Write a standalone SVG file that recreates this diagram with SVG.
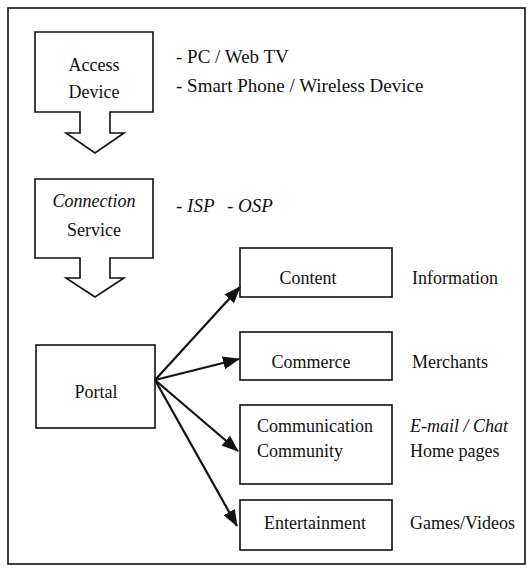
<svg xmlns="http://www.w3.org/2000/svg" width="528" height="573" viewBox="0 0 528 573">
<defs>
<style>
.frame{fill:none;stroke:#111;stroke-width:1.6}
.box{fill:#fff;stroke:#111;stroke-width:1.6;stroke-linejoin:miter}
.t{font-family:"Liberation Serif","Times New Roman",serif;font-size:18px;fill:#111}
.n{font-size:19px}
.c{text-anchor:middle}
.i{font-style:italic}
.link{stroke:#111;stroke-width:2.2;fill:none}
</style>
<marker id="ah" markerUnits="userSpaceOnUse" markerWidth="17" markerHeight="13" refX="16" refY="6.5" orient="auto">
<path d="M0,0 L17,6.5 L0,13 Z" fill="#111"/>
</marker>
</defs>
<rect width="528" height="573" fill="#fff"/>
<rect class="frame" x="8" y="8" width="517" height="556"/>

<g id="access-device">
<path class="box" d="M35,32 H153 V112 H110 V133 H124 L95,153 L66,133 H80 V112 H35 Z"/>
<text class="t c" x="94" y="71">Access</text>
<text class="t c" x="94" y="98">Device</text>
</g>
<g id="access-notes">
<text class="t n" x="176" y="63">- PC / Web TV</text>
<text class="t n" x="176" y="92">- Smart Phone / Wireless Device</text>
</g>

<g id="connection-service">
<path class="box" d="M35,179 H153 V258 H110 V278 H124 L95,297 L66,278 H80 V258 H35 Z"/>
<text class="t c i" x="94" y="207">Connection</text>
<text class="t c" x="94" y="236">Service</text>
</g>
<g id="connection-notes">
<text class="t n i" x="176" y="212">- ISP</text>
<text class="t n i" x="227" y="212">- OSP</text>
</g>

<g id="portal">
<rect class="box" x="36" y="345" width="119" height="83"/>
<text class="t c" x="96" y="398">Portal</text>
</g>

<g id="content">
<rect class="box" x="240" y="248" width="152" height="49"/>
<text class="t c" x="308" y="284">Content</text>
<text class="t" x="412" y="284">Information</text>
</g>

<g id="commerce">
<rect class="box" x="240" y="332" width="152" height="48"/>
<text class="t c" x="311" y="368">Commerce</text>
<text class="t" x="412" y="368">Merchants</text>
</g>

<g id="communication-community">
<rect class="box" x="240" y="405" width="152" height="79"/>
<text class="t" x="257" y="432">Communication</text>
<text class="t" x="257" y="457">Community</text>
<text class="t i" x="410" y="432">E-mail / Chat</text>
<text class="t" x="410" y="457">Home pages</text>
</g>

<g id="entertainment">
<rect class="box" x="240" y="500" width="152" height="50"/>
<text class="t c" x="315" y="529">Entertainment</text>
<text class="t" x="410" y="529">Games/Videos</text>
</g>

<g id="connectors">
<line class="link" x1="155" y1="380" x2="240" y2="287" marker-end="url(#ah)"/>
<line class="link" x1="155" y1="380" x2="239" y2="359" marker-end="url(#ah)"/>
<line class="link" x1="155" y1="380" x2="238" y2="451" marker-end="url(#ah)"/>
<line class="link" x1="155" y1="380" x2="237" y2="526" marker-end="url(#ah)"/>
</g>
</svg>
